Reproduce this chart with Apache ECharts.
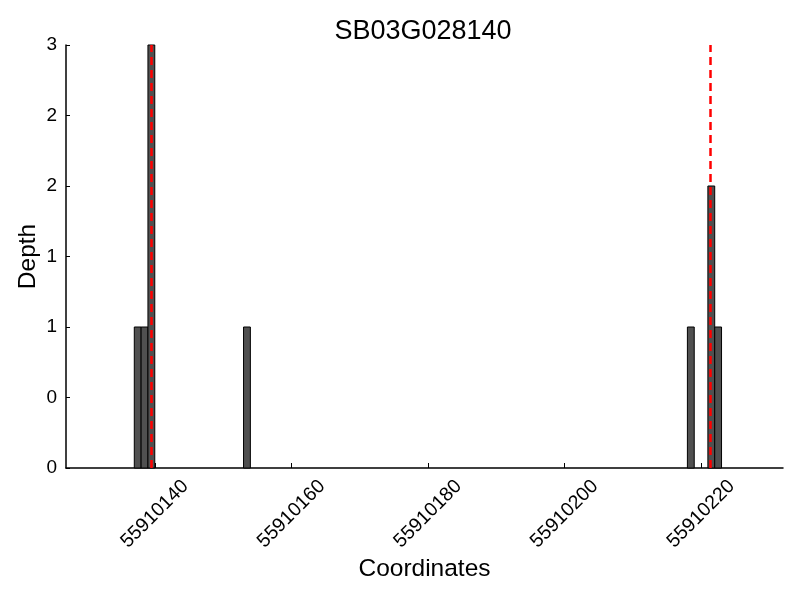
<!DOCTYPE html>
<html>
<head>
<meta charset="utf-8">
<script src="https://cdn.jsdelivr.net/npm/echarts@6/dist/echarts.min.js"></script>
<style>html,body{margin:0;padding:0;background:#fff}#c{width:800px;height:600px}</style>
</head>
<body>
<div id="c"></div>
<script>
const title = 'SB03G028140';
const binStarts = [55910137, 55910138, 55910139, 55910153, 55910218, 55910221, 55910222];
const depths = [1, 1, 3, 1, 1, 2, 1];
const markerPositions = [55910139.5, 55910221.4];
const xTicks = [55910140, 55910160, 55910180, 55910200, 55910220];
const xMin = 55910127, xMax = 55910232;
const yMin = 0, yMax = 3, yStep = 0.5;

const chart = echarts.init(document.getElementById('c'), null, {renderer: 'canvas'});
const font = 'Liberation Sans, Arial, sans-serif';
chart.setOption({
  animation: false,
  backgroundColor: '#fff',
  title: {text: title, left: 418, top: 13, textAlign: 'center',
    textStyle: {fontFamily: font, fontSize: 27, fontWeight: 'normal', color: '#000'}},
  grid: {left: 66, right: 17, top: 45, bottom: 132, containLabel: false, outerBoundsMode: 'none'},
  xAxis: {
    type: 'value', min: xMin, max: xMax,
    name: 'Coordinates', nameLocation: 'middle', nameGap: 89, nameMoveOverlap: false,
    nameTextStyle: {fontFamily: font, fontSize: 24.5, color: '#000'},
    axisLine: {show: true, lineStyle: {color: '#000', width: 1.5}},
    axisTick: {show: true, inside: true, length: 5, customValues: xTicks, lineStyle: {color: '#000'}},
    axisLabel: {show: true, rotate: 45, customValues: xTicks, fontFamily: font, fontSize: 19.5, color: '#000',
      margin: 46, align: 'center', verticalAlign: 'middle',
      formatter: v => String(Math.round(v))},
    splitLine: {show: false}
  },
  yAxis: {
    type: 'value', min: yMin, max: yMax, interval: yStep,
    name: 'Depth', nameLocation: 'middle', nameGap: 25, nameRotate: 90, nameMoveOverlap: false,
    nameTextStyle: {fontFamily: font, fontSize: 24.5, color: '#000'},
    axisLine: {show: true, lineStyle: {color: '#000', width: 1.5}},
    axisTick: {show: true, inside: true, length: 4, lineStyle: {color: '#000'}},
    axisLabel: {fontFamily: font, fontSize: 19, color: '#000', margin: 9,
      formatter: v => String(Math.floor(v))},
    splitLine: {show: false}
  },
  series: [{
    type: 'custom',
    data: binStarts.map((s, i) => [s, depths[i]]),
    renderItem: function (params, api) {
      const x0 = api.value(0);
      const p0 = api.coord([x0, 0]);
      const p1 = api.coord([x0 + 1, api.value(1)]);
      return {
        type: 'rect',
        shape: {x: p0[0], y: p1[1], width: p1[0] - p0[0], height: p0[1] - p1[1]},
        style: {fill: '#505050', stroke: '#000', lineWidth: 1}
      };
    },
    z: 2
  }, {
    type: 'line',
    data: [],
    markLine: {
      silent: true, symbol: 'none',
      label: {show: false},
      lineStyle: {color: '#ff0000', width: 2.5, type: [8, 5]},
      data: markerPositions.map(x => [{coord: [x, yMin]}, {coord: [x, yMax]}])
    },
    z: 5
  }]
});
</script>
</body>
</html>
